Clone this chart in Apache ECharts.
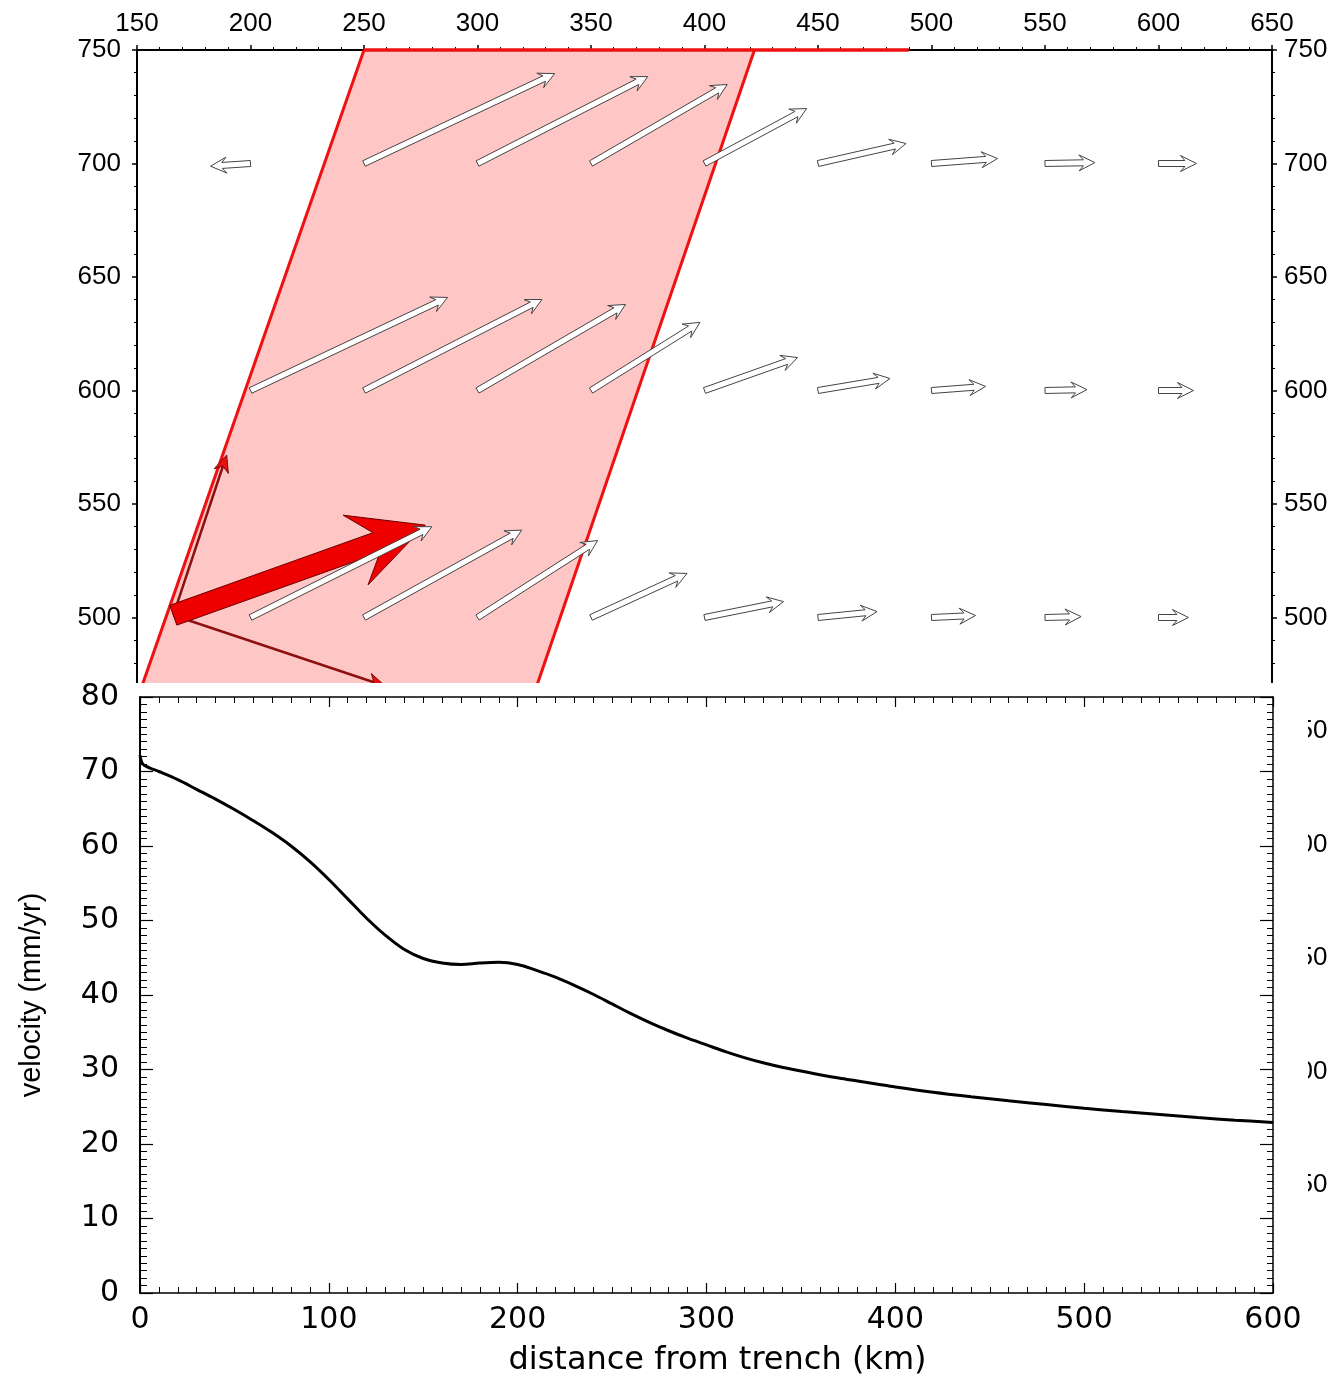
<!DOCTYPE html>
<html><head><meta charset="utf-8">
<script src="https://cdn.jsdelivr.net/npm/echarts@6/dist/echarts.min.js"></script>
<style>html,body{margin:0;padding:0;background:#fff}#c{width:1337px;height:1378px}</style>
</head><body><div id="c"></div>
<script>
// ---------- top panel (map view) ----------
const mapXTicks = [150, 650];          // top axis range
const mapYTicks = [200, 750];          // left/right axis range
const bandX = [250, 422, 321, 147];    // shaded band vertices (x)
const bandY = [750, 750, 455, 455];    // shaded band vertices (y)
const bandTopRedX = [250, 490];        // red segment along top edge
const arrowRowsY = [700, 600, 500];
const arrowTailX = [200, 250, 300, 350, 400, 450, 500, 550, 600];
const arrowDx700 = [-17.6, 84.0, 75.0, 60.0, 45.0, 38.8, 29.1, 22.0, 16.7];
const arrowDy700 = [-1.2, 39.6, 38.3, 34.8, 24.2, 8.8, 2.2, 0.4, 0.0];
const arrowDx600 = [86.8, 78.4, 65.2, 48.0, 41.0, 31.7, 23.8, 18.5, 15.4];
const arrowDy600 = [41.0, 40.1, 37.9, 30.0, 14.5, 5.3, 1.8, 0.4, 0.0];
const arrowDx500 = [79.9, 69.5, 52.9, 42.3, 34.8, 26.0, 19.4, 15.9, 13.2];
const arrowDy500 = [40.0, 38.5, 33.9, 19.4, 7.0, 2.6, 0.9, 0.4, 0.0];
const redOrigin = [166, 501];
const bigRedVec = [111, 39.7];
const thinRedVecX = [23.5, 93.3];
const thinRedVecY = [70.6, -31.2];

// ---------- bottom panel (velocity profile) ----------
const distanceKm = [0,1.5,5,10,20,30,40,50,60,70,80,90,100,110,120,130,140,150,160,170,180,190,200,210,220,230,240,250,260,270,280,290,300,310,320,330,340,350,360,370,380,390,400,420,440,460,480,500,520,540,560,580,600];
const velocity =   [72.2,71.0,70.5,70.0,68.9,67.6,66.3,64.9,63.4,61.8,60.0,57.9,55.5,52.9,50.3,48.0,46.1,44.9,44.3,44.1,44.3,44.4,44.1,43.3,42.4,41.3,40.1,38.8,37.5,36.3,35.2,34.2,33.3,32.4,31.6,30.9,30.3,29.8,29.3,28.85,28.45,28.05,27.65,26.95,26.35,25.8,25.3,24.8,24.35,23.95,23.55,23.2,22.9];

const arrowData = [];
[[arrowDx700, arrowDy700], [arrowDx600, arrowDy600], [arrowDx500, arrowDy500]].forEach((pair, r) => {
  arrowTailX.forEach((x, i) => arrowData.push([x, arrowRowsY[r], pair[0][i], pair[1][i]]));
});

function arrowPts(p0, p1, w, hl, hw, neck) {
  const vx = p1[0] - p0[0], vy = p1[1] - p0[1];
  const len = Math.hypot(vx, vy) || 1;
  const ux = vx / len, uy = vy / len, px = -uy, py = ux;
  if (hl > len * 0.8) { const s = len * 0.8 / hl; hl *= s; hw *= s; }
  const nx = p1[0] - ux * hl * neck, ny = p1[1] - uy * hl * neck;
  const bx = p1[0] - ux * hl, by = p1[1] - uy * hl;
  return [
    [p0[0] + px * w, p0[1] + py * w],
    [nx + px * w, ny + py * w],
    [bx + px * hw, by + py * hw],
    [p1[0], p1[1]],
    [bx - px * hw, by - py * hw],
    [nx - px * w, ny - py * w],
    [p0[0] - px * w, p0[1] - py * w]
  ];
}

const F1 = 'Liberation Sans';
const F2 = 'DejaVu Sans';

const chart = echarts.init(document.getElementById('c'), null, {renderer: 'canvas'});
chart.setOption({
  animation: false,
  backgroundColor: '#fff',
  grid: [
    {left: 137, right: 65, top: 50, height: 1248.5, containLabel: false},
    {left: 140, right: 64, top: 697, bottom: 84, containLabel: false}
  ],
  graphic: {elements: [
    {type: 'rect', z: 50, shape: {x: 0, y: 683, width: 1308, height: 700}, style: {fill: '#fff'}}
  ]},
  xAxis: [
    {gridIndex: 0, type: 'value', position: 'top', min: mapXTicks[0], max: mapXTicks[1], interval: 50, z: 1,
     axisLine: {show: true, onZero: false, lineStyle: {color: '#000', width: 2}},
     axisTick: {show: true, length: 5, lineStyle: {color: '#000', width: 1.5}},
     minorTick: {show: true, splitNumber: 5, length: 3, lineStyle: {color: '#000', width: 1}},
     splitLine: {show: false},
     axisLabel: {color: '#000', fontFamily: F1, fontSize: 26, margin: 13}},
    {gridIndex: 1, type: 'value', position: 'bottom', min: 0, max: 600, interval: 100, z: 60,
     axisLine: {show: true, onZero: false, lineStyle: {color: '#000', width: 1.5}},
     axisTick: {show: true, inside: true, length: 10, lineStyle: {color: '#000', width: 1.2}},
     minorTick: {show: true, splitNumber: 10, length: 6, lineStyle: {color: '#000', width: 1}},
     splitLine: {show: false},
     axisLabel: {color: '#000', fontFamily: F2, fontSize: 30, margin: 12},
     name: 'distance from trench (km)', nameLocation: 'middle', nameGap: 52,
     nameTextStyle: {color: '#000', fontFamily: F2, fontSize: 32, padding: [0, 0, 0, 22]}},
    {gridIndex: 1, type: 'value', position: 'top', min: 0, max: 600, interval: 100, z: 60,
     axisLine: {show: true, onZero: false, lineStyle: {color: '#000', width: 1.5}},
     axisTick: {show: true, inside: true, length: 10, lineStyle: {color: '#000', width: 1.2}},
     minorTick: {show: true, splitNumber: 10, length: 6, lineStyle: {color: '#000', width: 1}},
     splitLine: {show: false}, axisLabel: {show: false}}
  ],
  yAxis: [
    {gridIndex: 0, type: 'value', position: 'left', min: mapYTicks[0], max: mapYTicks[1], interval: 50, z: 1,
     axisLine: {show: true, onZero: false, lineStyle: {color: '#000', width: 2}},
     axisTick: {show: true, length: 5, lineStyle: {color: '#000', width: 1.5}},
     minorTick: {show: true, splitNumber: 5, length: 3, lineStyle: {color: '#000', width: 1}},
     splitLine: {show: false},
     axisLabel: {color: '#000', fontFamily: F1, fontSize: 26, margin: 16, showMinLabel: false}},
    {gridIndex: 0, type: 'value', position: 'right', min: mapYTicks[0], max: mapYTicks[1], interval: 50, z: 1,
     axisLine: {show: true, onZero: false, lineStyle: {color: '#000', width: 2}},
     axisTick: {show: true, length: 5, lineStyle: {color: '#000', width: 1.5}},
     minorTick: {show: true, splitNumber: 5, length: 3, lineStyle: {color: '#000', width: 1}},
     splitLine: {show: false},
     axisLabel: {color: '#000', fontFamily: F1, fontSize: 26, margin: 12, showMinLabel: false}},
    {gridIndex: 1, type: 'value', position: 'left', min: 0, max: 80, interval: 10, z: 60,
     axisLine: {show: true, onZero: false, lineStyle: {color: '#000', width: 2}},
     axisTick: {show: true, inside: true, length: 13, lineStyle: {color: '#000', width: 1.2}},
     minorTick: {show: true, splitNumber: 10, length: 7, lineStyle: {color: '#000', width: 1}},
     splitLine: {show: false},
     axisLabel: {color: '#000', fontFamily: F2, fontSize: 30, margin: 21},
     name: 'velocity (mm/yr)', nameLocation: 'middle', nameRotate: 90, nameGap: 94,
     nameTextStyle: {color: '#000', fontFamily: F1, fontSize: 29}},
    {gridIndex: 1, type: 'value', position: 'right', min: 0, max: 80, interval: 10, z: 60,
     axisLine: {show: true, onZero: false, lineStyle: {color: '#000', width: 1.5}},
     axisTick: {show: true, inside: true, length: 13, lineStyle: {color: '#000', width: 1.2}},
     minorTick: {show: true, splitNumber: 10, length: 6, lineStyle: {color: '#000', width: 1}},
     splitLine: {show: false}, axisLabel: {show: false}}
  ],
  series: [
    {type: 'custom', name: 'band', xAxisIndex: 0, yAxisIndex: 0, z: 2, clip: false,
     data: bandX.map((x, i) => [x, bandY[i]]),
     renderItem: function (params, api) {
       if (params.dataIndex !== 0) return null;
       const pts = bandX.map((x, i) => api.coord([x, bandY[i]]));
       return {type: 'polygon', shape: {points: pts}, style: {fill: '#ffc6c6', stroke: null}};
     }},
    {type: 'line', xAxisIndex: 0, yAxisIndex: 0, z: 3, clip: false, symbol: 'none', silent: true,
     data: [[bandX[0], bandY[0]], [bandX[3], bandY[3]]], lineStyle: {color: '#ee1111', width: 3}},
    {type: 'line', xAxisIndex: 0, yAxisIndex: 0, z: 3, clip: false, symbol: 'none', silent: true,
     data: [[bandX[1], bandY[1]], [bandX[2], bandY[2]]], lineStyle: {color: '#ee1111', width: 3}},
    {type: 'line', xAxisIndex: 0, yAxisIndex: 0, z: 3, clip: false, symbol: 'none', silent: true,
     data: [[bandTopRedX[0], 750], [bandTopRedX[1], 750]], lineStyle: {color: '#ee1111', width: 3.5}},
    {type: 'custom', name: 'thinRed', xAxisIndex: 0, yAxisIndex: 0, z: 4, clip: false,
     data: thinRedVecX.map((dx, i) => [redOrigin[0], redOrigin[1], dx, thinRedVecY[i]]),
     renderItem: function (params, api) {
       const x0 = api.value(0), y0 = api.value(1);
       const p0 = api.coord([x0, y0]);
       const p1 = api.coord([x0 + api.value(2), y0 + api.value(3)]);
       const vx = p1[0] - p0[0], vy = p1[1] - p0[1], L = Math.hypot(vx, vy);
       const ux = vx / L, uy = vy / L, px = -uy, py = ux;
       const hl = 17, hw = 7.5;
       const bx = p1[0] - ux * hl, by = p1[1] - uy * hl;
       const nx = p1[0] - ux * hl * 0.7, ny = p1[1] - uy * hl * 0.7;
       return {type: 'group', children: [
         {type: 'line', shape: {x1: p0[0], y1: p0[1], x2: nx, y2: ny}, style: {stroke: '#8c1010', lineWidth: 2.5}},
         {type: 'polygon', shape: {points: [[bx + px * hw, by + py * hw], [p1[0], p1[1]], [bx - px * hw, by - py * hw], [nx, ny]]},
          style: {fill: '#e81010', stroke: '#7a0a0a', lineWidth: 1}}
       ]};
     }},
    {type: 'custom', name: 'bigRed', xAxisIndex: 0, yAxisIndex: 0, z: 5, clip: false,
     data: [[redOrigin[0], redOrigin[1], bigRedVec[0], bigRedVec[1]]],
     renderItem: function (params, api) {
       const x0 = api.value(0), y0 = api.value(1);
       const p0 = api.coord([x0, y0]);
       const p1 = api.coord([x0 + api.value(2), y0 + api.value(3)]);
       return {type: 'polygon', shape: {points: arrowPts(p0, p1, 10.5, 74, 37, 0.7)},
               style: {fill: '#ee0000', stroke: '#6a0000', lineWidth: 1}};
     }},
    {type: 'custom', name: 'vectors', xAxisIndex: 0, yAxisIndex: 0, z: 6, clip: false,
     data: arrowData,
     renderItem: function (params, api) {
       const x0 = api.value(0), y0 = api.value(1);
       const p0 = api.coord([x0, y0]);
       const p1 = api.coord([x0 + api.value(2), y0 + api.value(3)]);
       return {type: 'polygon', shape: {points: arrowPts(p0, p1, 3, 16, 8, 0.72)},
               style: {fill: '#ffffff', stroke: '#444', lineWidth: 1}};
     }},
    {type: 'line', name: 'velocity', xAxisIndex: 1, yAxisIndex: 2, z: 61, symbol: 'none', smooth: 0.35,
     data: distanceKm.map((d, i) => [d, velocity[i]]),
     lineStyle: {color: '#000', width: 3}}
  ]
});
</script></body></html>
